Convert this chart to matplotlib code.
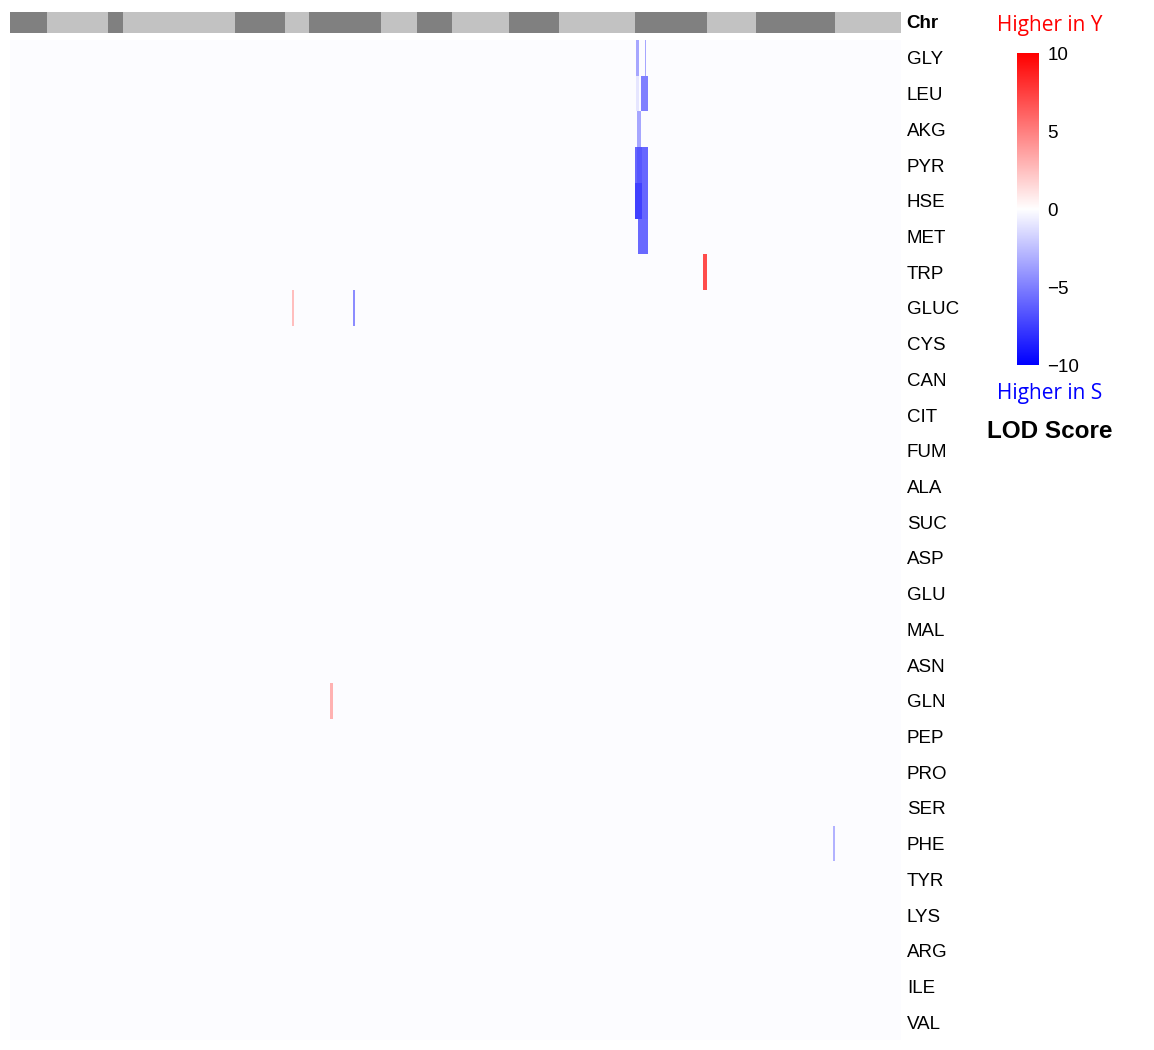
import numpy as np
import matplotlib
matplotlib.use("Agg")
import matplotlib.pyplot as plt
from matplotlib.colors import LinearSegmentedColormap, ListedColormap

# ---------------- data ----------------
traits = ["GLY", "LEU", "AKG", "PYR", "HSE", "MET", "TRP", "GLUC", "CYS", "CAN",
          "CIT", "FUM", "ALA", "SUC", "ASP", "GLU", "MAL", "ASN", "GLN", "PEP",
          "PRO", "SER", "PHE", "TYR", "LYS", "ARG", "ILE", "VAL"]
# number of markers per chromosome (I..XVI)
chr_markers = [37, 61, 15, 112, 50, 24, 72, 36, 35, 56, 50, 76, 72, 49, 79, 66]
# QTL segments: trait, chromosome index, first marker, end marker (exclusive), LOD
seg_trait = ["GLY", "GLY", "LEU", "LEU", "AKG", "PYR", "PYR", "HSE", "HSE", "MET",
             "TRP", "GLUC", "GLUC", "GLN", "PHE"]
seg_chr = [12, 12, 12, 12, 12, 12, 12, 12, 12, 12, 12, 5, 6, 6, 14]
seg_start = [1, 10, 1, 6, 2, 0, 2, 0, 7, 3, 68, 7, 44, 21, 77]
seg_end = [4, 11, 4, 13, 6, 13, 7, 7, 13, 13, 72, 9, 46, 24, 79]
seg_lod = [-3.5, -3.5, -1.0, -5.0, -3.5, -6.0, -6.6, -7.5, -6.0, -5.8,
           7.0, 2.5, -4.5, 3.0, -3.0]
baseline_lod = -0.15

# ---------------- build matrix ----------------
offsets = np.concatenate([[0], np.cumsum(chr_markers)])
n_markers = offsets[-1]
mat = np.full((len(traits), n_markers), baseline_lod)
for t, c, s, e, v in zip(seg_trait, seg_chr, seg_start, seg_end, seg_lod):
    r = traits.index(t)
    mat[r, offsets[c] + s: offsets[c] + e] = v
chr_row = np.concatenate([np.full(n, i % 2) for i, n in enumerate(chr_markers)])[None, :]

# ---------------- figure ----------------
W, H = 1154, 1050
fig = plt.figure(figsize=(W / 100, H / 100), dpi=100)

def ax_px(x0, y0, x1, y1):
    return fig.add_axes([x0 / W, 1 - y1 / H, (x1 - x0) / W, (y1 - y0) / H])

cmap = LinearSegmentedColormap.from_list("bwr_lod", ["#0000ff", "#ffffff", "#ff0000"], N=256)
lab_font = ["Liberation Sans", "DejaVu Sans"]

# chromosome bar
ax_chr = ax_px(10, 12, 900, 33)
ax_chr.imshow(chr_row, aspect="auto", interpolation="nearest",
              cmap=ListedColormap(["#808080", "#c2c2c2"]), vmin=0, vmax=1)
ax_chr.set_xticks([]); ax_chr.set_yticks([])
for s in ax_chr.spines.values():
    s.set_visible(False)
fig.text(906 / W, 1 - 23 / H, "Chr", fontsize=13.5, fontweight="bold",
         family=lab_font, ha="left", va="center")

# heatmap
ax = ax_px(10, 40, 900, 1040)
ax.imshow(mat, aspect="auto", interpolation="nearest", cmap=cmap, vmin=-10, vmax=10)
ax.set_xticks([])
ax.set_yticks(range(len(traits)))
ax.set_yticklabels(traits, fontsize=13.5, family=lab_font)
ax.yaxis.tick_right()
ax.tick_params(axis="y", length=0, pad=5)
for s in ax.spines.values():
    s.set_visible(False)

# colorbar
cax = ax_px(1017, 53, 1039, 365)
grad = np.linspace(10, -10, 256)[:, None]
cax.imshow(grad, aspect="auto", cmap=cmap, vmin=-10, vmax=10,
           extent=[0, 1, -10, 10])
cax.set_xticks([])
cax.yaxis.tick_right()
cax.set_yticks([10, 5, 0, -5, -10])
cax.set_yticklabels(["10", "5", "0", "\u22125", "\u221210"], fontsize=13.5, family=lab_font)
cax.tick_params(axis="y", length=0, pad=6)
for s in cax.spines.values():
    s.set_visible(False)

fig.text(1050 / W, 1 - 26 / H, "Higher in Y", color="#ff0000", fontsize=15,
         family=["Open Sans", "DejaVu Sans"], ha="center", va="center")
fig.text(1050 / W, 1 - 393 / H, "Higher in S", color="#0000ff", fontsize=15,
         family=["Open Sans", "DejaVu Sans"], ha="center", va="center")
fig.text(1050 / W, 1 - 431 / H, "LOD Score", color="black", fontsize=17.5,
         fontweight="bold", family=lab_font, ha="center", va="center")

fig.savefig("out.png", dpi=100, facecolor="white")
